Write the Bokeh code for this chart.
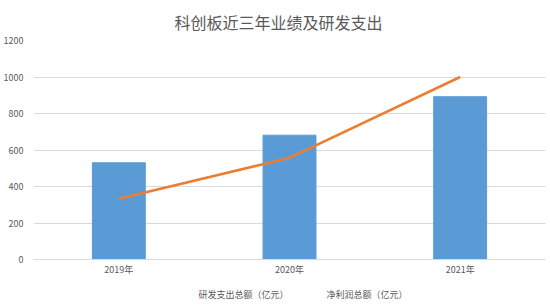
from bokeh.plotting import figure
from bokeh.models import ColumnDataSource, Legend, LegendItem, FixedTicker, Range1d
from bokeh.layouts import column
from bokeh.embed import file_html
from bokeh.resources import INLINE

years = ["2019年", "2020年", "2021年"]
rd_spend = [530, 681, 892]
net_profit = [333, 557, 1000]
y_ticks = [0, 200, 400, 600, 800, 1000, 1200]
series_names = ["研发支出总额（亿元）", "净利润总额（亿元）"]

FONT = "Noto Sans CJK SC"
GRAY = "#595959"
BLUE = "#5B9BD5"
ORANGE = "#ED7D31"

src = ColumnDataSource(dict(year=years, rd=rd_spend, np=net_profit))

p = figure(width=550, height=280, x_range=years, y_range=Range1d(0, 1200),
           output_backend="svg", toolbar_location=None,
           min_border_left=31, min_border_right=5, min_border_top=37, min_border_bottom=21)
p.x_range.range_padding = 0

p.title.text = "科创板近三年业绩及研发支出"
p.title.align = "left"
p.title.offset = 141
p.title.standoff = 14
p.title.text_font = FONT
p.title.text_font_size = "16px"
p.title.text_font_style = "normal"
p.title.text_color = GRAY

p.vbar(x="year", top="rd", width=0.31, source=src, color=BLUE)
p.line(x="year", y="np", source=src, line_color=ORANGE, line_width=2.5)

p.outline_line_color = None
p.background_fill_color = "white"
p.border_fill_color = "white"
p.xgrid.grid_line_color = None
p.ygrid.grid_line_color = "#D9D9D9"
p.ygrid.grid_line_width = 1

p.yaxis.ticker = FixedTicker(ticks=y_ticks)
p.yaxis.axis_line_color = None
p.yaxis.major_tick_line_color = None
p.yaxis.minor_tick_line_color = None
p.yaxis.major_label_text_font = FONT
p.yaxis.major_label_text_font_size = "9px"
p.yaxis.major_label_text_color = GRAY
p.yaxis.major_label_standoff = 4

p.xaxis.axis_line_color = "#D9D9D9"
p.xaxis.major_tick_line_color = None
p.xaxis.minor_tick_line_color = None
p.xaxis.major_tick_out = 0
p.xaxis.major_tick_in = 0
p.xaxis.major_label_text_font = FONT
p.xaxis.major_label_text_font_size = "9px"
p.xaxis.major_label_text_color = GRAY
p.xaxis.major_label_standoff = 3

# legend strip below the chart
lg = figure(width=550, height=28, x_range=Range1d(0, 1), y_range=Range1d(0, 1),
            output_backend="svg", toolbar_location=None,
            min_border_left=0, min_border_right=0, min_border_top=0, min_border_bottom=0)
lg.axis.visible = False
lg.grid.visible = False
lg.outline_line_color = None
lg.border_fill_color = "white"
empty = ColumnDataSource(dict(x=[], y=[]))
r_bar = lg.vbar(x="x", top="y", width=0.31, source=empty, color=BLUE)
r_line = lg.line(x="x", y="y", source=empty, line_color=ORANGE, line_width=2.5)

legend = Legend(items=[LegendItem(label=series_names[0], renderers=[r_bar]),
                       LegendItem(label=series_names[1], renderers=[r_line])],
                orientation="horizontal", location="center",
                label_text_font=FONT, label_text_font_size="9px", label_text_color=GRAY,
                label_height=10, glyph_width=24, glyph_height=7, spacing=10, padding=0, margin=0,
                border_line_color=None, background_fill_alpha=0, label_standoff=4)
lg.add_layout(legend, "center")

layout = column(p, lg, spacing=0)

open("out.html", "w").write(file_html(layout, INLINE))
